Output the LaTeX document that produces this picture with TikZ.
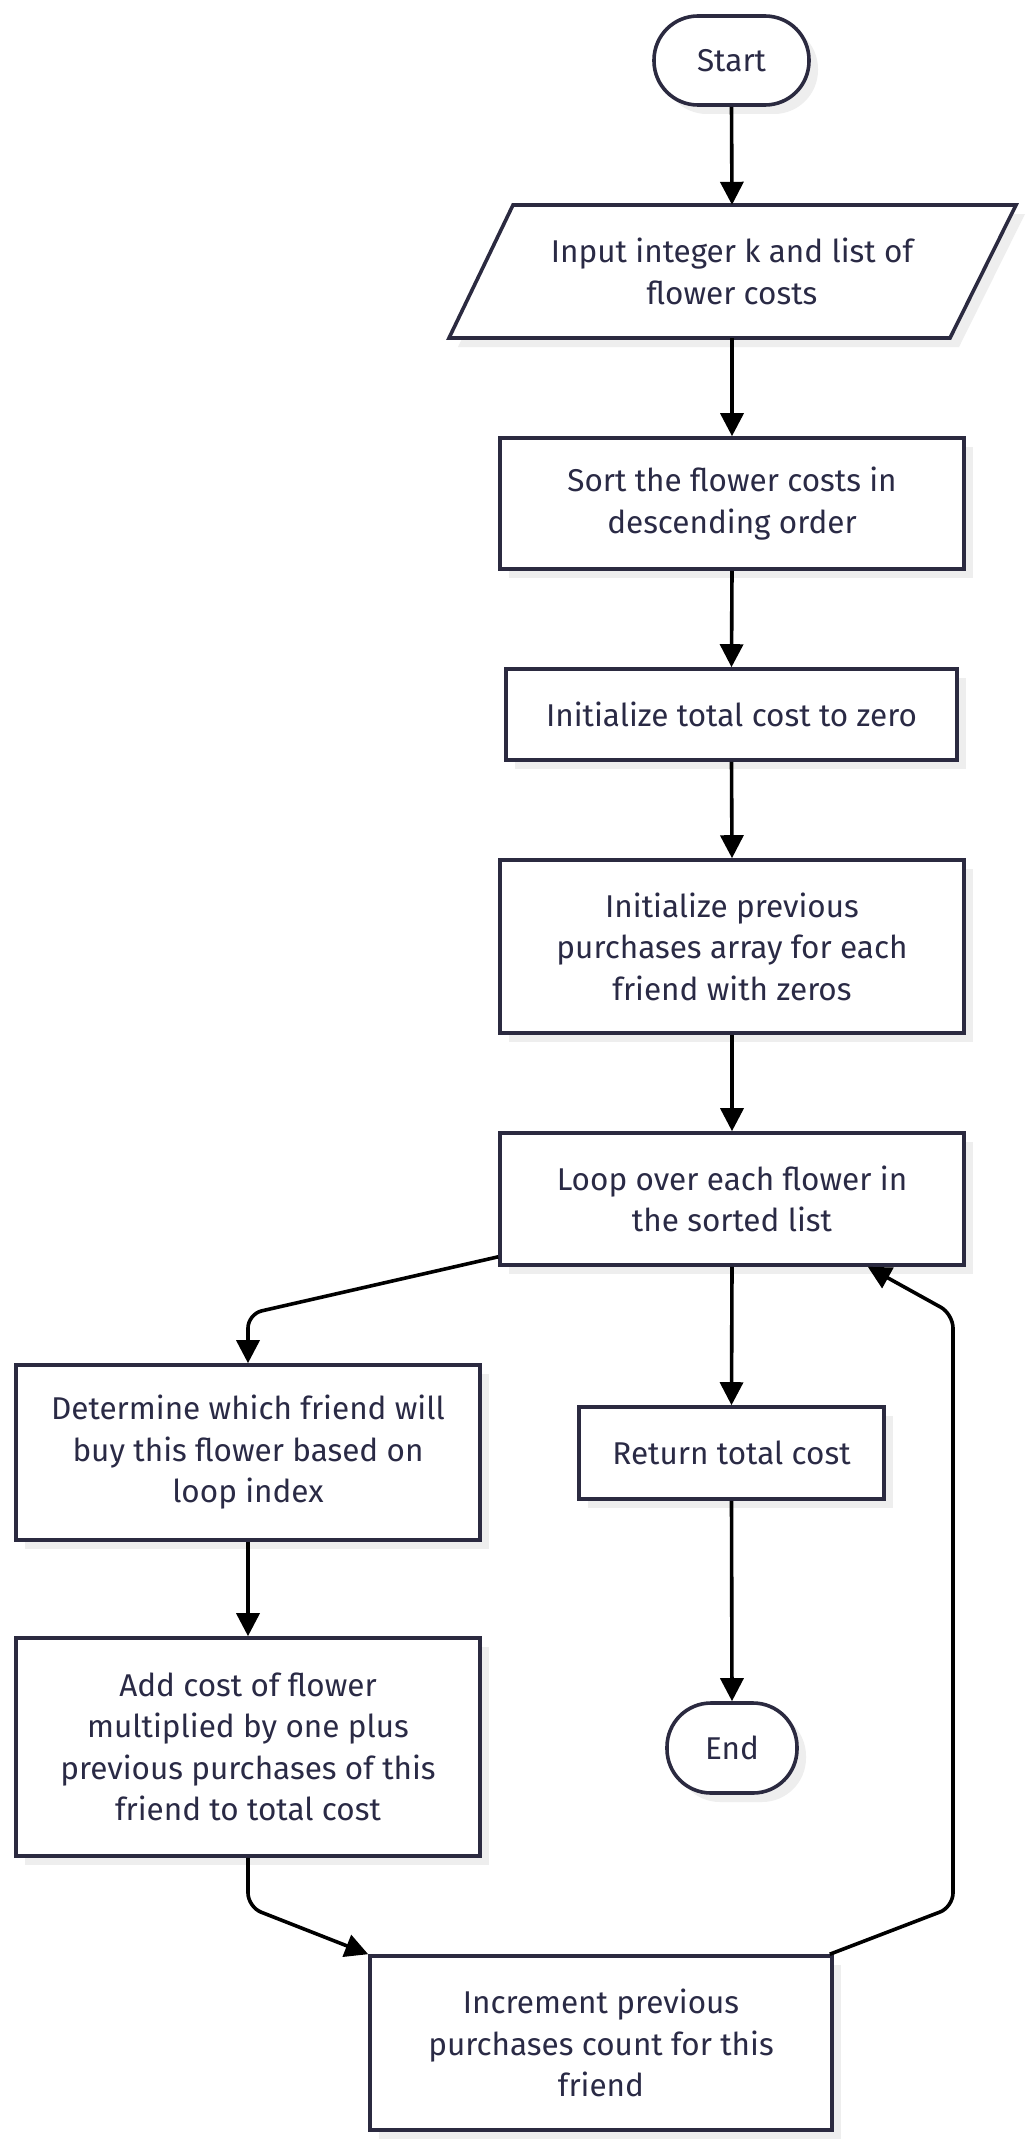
\documentclass[tikz,border=0pt]{standalone}
\usepackage{fontspec}
\setmainfont{Fira Sans}
\usetikzlibrary{arrows.meta,shadows,calc}
\definecolor{bd}{HTML}{2B2A40}
\definecolor{tx}{HTML}{2A2A45}
\definecolor{sh}{HTML}{EEEEEE}
\begin{document}
\begin{tikzpicture}[x=1pt,y=-1pt,
  box/.style={draw=bd, line width=3.6pt, fill=white, text=tx, align=center,
    font=\fontsize{31.5}{41.5}\selectfont, inner sep=0pt,
    drop shadow={shadow xshift=9pt, shadow yshift=-9pt, fill=sh, opacity=1}},
  arr/.style={-{Triangle[length=23pt,width=23pt]}, line width=3.6pt, black, rounded corners=14pt}]
\useasboundingbox (0,0) rectangle (1032,2146);
\fill[white] (0,0) rectangle (1032,2146);

\node[box, rounded corners=44pt, minimum width=155pt, minimum height=89pt] (start) at (731.5,60.5) {Start};

% parallelogram input
\fill[sh] (458,347) -- (522,214) -- (1025,214) -- (959,347) -- cycle;
\draw[draw=bd, line width=3.6pt, fill=white] (449,338) -- (513,205) -- (1016,205) -- (950,338) -- cycle;
\node[text=tx, align=center, font=\fontsize{31.5}{41.5}\selectfont, inner sep=0pt, minimum width=500pt, minimum height=133pt] (inp) at (732,271.5) {Input integer k and list of\\flower costs};

\node[box, minimum width=464pt, minimum height=131pt] (sort) at (732,503.5) {Sort the flower costs in\\descending order};
\node[box, minimum width=451pt, minimum height=91pt] (tot) at (731.5,714.5) {Initialize total cost to zero};
\node[box, minimum width=464pt, minimum height=173pt] (prev) at (732,946.5) {Initialize previous\\purchases array for each\\friend with zeros};
\node[box, minimum width=464pt, minimum height=132pt] (loop) at (732,1199) {Loop over each flower in\\the sorted list};
\node[box, minimum width=464pt, minimum height=175pt] (det) at (248,1452.5) {Determine which friend will\\buy this flower based on\\loop index};
\node[box, minimum width=305pt, minimum height=92pt] (ret) at (731.5,1453) {Return total cost};
\node[box, minimum width=464pt, minimum height=218pt] (add) at (248,1747) {Add cost of flower\\multiplied by one plus\\previous purchases of this\\friend to total cost};
\node[box, rounded corners=44pt, minimum width=130pt, minimum height=90pt] (end) at (732,1748) {End};
\node[box, minimum width=462pt, minimum height=174pt] (inc) at (601,2043) {Increment previous\\purchases count for this\\friend};

\draw[arr] (start.south) -- (inp.north);
\draw[arr] (inp.south) -- (sort.north);
\draw[arr] (sort.south) -- (tot.north);
\draw[arr] (tot.south) -- (prev.north);
\draw[arr] (prev.south) -- (loop.north);
\draw[arr] (loop.south) -- (ret.north);
\draw[arr] (ret.south) -- (end.north);
\draw[arr] (det.south) -- (add.north);
\draw[arr] ($(loop.south west)+(0,-10)$) -- (248,1314) -- (det.north);
\draw[arr] (add.south) -- (248,1907) -- (inc.north west);
\draw[arr] ($(inc.north east)+(-4,0)$) -- (953,1907) -- (953,1314) -- ($(loop.south east)+(-98,0)$);
\end{tikzpicture}
\end{document}
